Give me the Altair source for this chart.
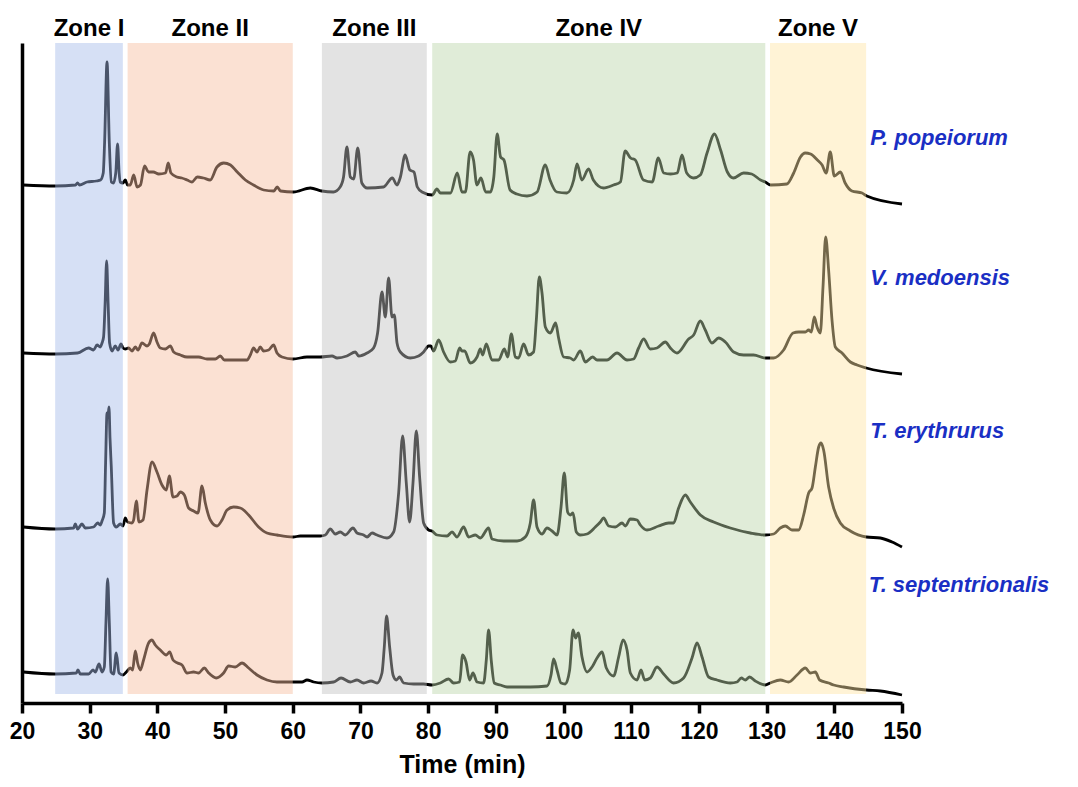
import altair as alt
import pandas as pd

species = ["P. popeiorum", "V. medoensis", "T. erythrurus", "T. septentrionalis"]

# (time in min, detector signal, stacked)
popeiorum = [
    (20.2, 518), (24.9, 517), (27.9, 518), (28.2, 520), (28.5, 518), (29.6, 521), (31.0, 522),
    (31.6, 523), (32.0, 530), (32.2, 560), (32.56, 641), (32.9, 560), (33.2, 521), (33.5, 520),
    (33.85, 530), (34.12, 559), (34.35, 530), (34.5, 521), (34.9, 520), (35.26, 523), (35.6, 518),
    (36.0, 518), (36.5, 528), (37.0, 516), (37.5, 518), (38.1, 537), (38.7, 531), (39.4, 531),
    (40.2, 529), (41.2, 530), (41.6, 540), (42.0, 530), (42.9, 526), (43.6, 525), (44.4, 523),
    (45.1, 521), (45.9, 526), (46.8, 525), (47.8, 523), (48.8, 536), (49.8, 540), (50.8, 538),
    (51.8, 531), (53.0, 523), (54.2, 518), (55.7, 513), (57.2, 512), (57.7, 516), (58.2, 512),
    (60.1, 511), (62.6, 515), (64.3, 512), (66.0, 511), (67.0, 516), (67.5, 526), (68.0, 556),
    (68.5, 526), (69.0, 524), (69.6, 555), (70.2, 520), (71.0, 515), (73.4, 516), (74.7, 525),
    (75.4, 518), (75.9, 526), (76.6, 548), (77.3, 533), (77.9, 531), (78.4, 516), (79.1, 511),
    (80.6, 508), (81.3, 514), (81.8, 510), (83.3, 510), (84.3, 530), (85.0, 511), (85.5, 511),
    (86.2, 551), (86.7, 543), (87.2, 518), (87.8, 525), (88.5, 511), (89.2, 511), (89.7, 526),
    (90.2, 569), (90.7, 546), (91.2, 543), (92.1, 513), (93.1, 509), (94.6, 507), (96.1, 511),
    (97.3, 538), (98.0, 523), (99.0, 511), (100.5, 510), (101.5, 523), (102.0, 539), (102.7, 523),
    (103.7, 534), (104.4, 523), (105.9, 515), (107.4, 518), (108.4, 521), (109.1, 552), (109.9, 545),
    (110.6, 543), (111.8, 523), (113.1, 521), (114.0, 545), (114.8, 530), (115.8, 529), (116.8, 530),
    (117.5, 548), (118.2, 530), (119.2, 525), (120.2, 528), (121.2, 550), (122.3, 569), (123.2, 553),
    (124.2, 531), (125.1, 525), (126.6, 530), (127.8, 529), (129.1, 523), (129.8, 521), (130.6, 518),
    (133.0, 519), (134.0, 530), (135.0, 546), (135.7, 550), (136.5, 549), (137.5, 543), (138.2, 538),
    (138.8, 530), (139.4, 551), (140.0, 527), (140.9, 531), (141.6, 520), (142.6, 512), (144.1, 510),
    (144.8, 507), (150.0, 499),
]

medoensis = [
    (20.2, 350), (24.9, 349), (28.2, 350), (29.84, 355), (30.58, 353), (31.08, 358), (31.57, 356),
    (31.82, 360), (32.05, 366), (32.28, 400), (32.5, 442), (32.72, 400), (32.94, 360), (33.3, 352),
    (33.78, 357), (34.18, 353), (34.63, 359), (34.92, 355), (35.26, 354), (35.75, 355), (36.25, 352),
    (36.74, 356), (37.14, 353), (37.73, 360), (38.47, 357), (38.81, 359), (39.44, 370), (39.94, 361),
    (40.43, 355), (41.17, 354), (41.91, 357), (42.4, 351), (43.39, 348), (44.38, 346), (46.09, 346),
    (47.33, 344), (48.56, 344), (49.3, 347), (49.89, 343), (51.26, 343), (53.24, 343), (53.73, 348),
    (54.21, 355), (54.72, 351), (55.2, 356), (55.69, 352), (56.43, 353), (57.17, 358), (57.67, 350),
    (58.41, 346), (60.04, 344), (62.1, 346), (64.07, 346), (65.8, 347), (66.54, 345), (68.0, 347),
    (69.24, 351), (69.73, 347), (70.97, 350), (71.94, 355), (72.53, 370), (73.18, 411), (73.67, 386),
    (74.16, 425), (74.66, 386), (75.0, 388), (75.4, 360), (75.89, 351), (77.36, 345), (78.59, 347),
    (79.33, 351), (80.07, 357), (80.4, 357), (80.81, 352), (81.55, 363), (82.28, 351), (83.27, 341),
    (84.01, 342), (84.65, 355), (85.0, 352), (85.39, 352), (86.23, 340), (87.22, 346), (87.71, 354),
    (88.05, 348), (88.59, 359), (89.43, 343), (90.41, 343), (91.25, 354), (91.74, 346), (92.29, 369),
    (92.88, 346), (93.36, 345), (94.1, 359), (94.84, 348), (95.58, 351), (95.98, 383), (96.42, 426),
    (96.82, 410), (97.31, 376), (98.05, 370), (98.83, 380), (99.27, 365), (100.01, 346), (101.0, 345),
    (101.49, 343), (102.48, 352), (103.22, 341), (104.3, 346), (104.95, 343), (106.42, 343),
    (107.9, 350), (109.38, 343), (110.35, 344), (111.09, 355), (111.83, 364), (112.82, 354),
    (113.81, 355), (115.04, 361), (115.78, 355), (116.76, 350), (118.48, 364), (119.22, 368),
    (120.21, 382), (120.94, 373), (121.93, 360), (122.91, 365), (123.9, 361), (125.13, 351),
    (126.6, 348), (128.08, 348), (129.81, 345), (131.04, 345), (132.51, 353), (133.9, 370),
    (134.73, 371), (135.72, 371), (136.21, 373), (136.6, 371), (137.05, 386), (137.45, 376),
    (137.93, 370), (138.33, 416), (138.72, 466), (139.16, 433), (139.66, 383), (140.15, 356),
    (141.14, 350), (142.37, 341), (143.36, 338), (144.73, 335), (150.0, 329),
]

erythrurus = [
    (20.2, 176), (24.9, 174), (27.62, 175), (27.87, 179), (28.21, 174), (28.86, 179), (29.35, 175),
    (30.58, 176), (31.17, 180), (31.57, 178), (31.82, 182), (32.16, 190), (32.35, 240), (32.56, 290),
    (32.7, 286), (32.85, 296), (33.0, 265), (33.19, 236), (33.53, 180), (33.93, 176), (34.52, 179),
    (34.92, 177), (35.26, 185), (35.6, 181), (36.25, 180), (36.49, 183), (36.89, 202), (37.28, 181),
    (37.88, 183), (38.47, 213), (39.21, 241), (39.94, 231), (40.68, 218), (41.32, 213), (41.76, 227),
    (42.31, 206), (42.9, 207), (43.39, 211), (43.98, 208), (44.61, 195), (45.35, 192), (46.0, 190),
    (46.59, 217), (47.08, 200), (47.82, 183), (48.81, 177), (49.55, 183), (50.29, 193), (51.26, 196),
    (52.25, 195), (53.48, 188), (54.95, 176), (56.19, 170), (57.67, 168), (60.04, 166), (61.11, 167),
    (64.07, 167), (64.81, 168), (65.55, 174), (66.28, 169), (67.02, 171), (67.76, 168), (68.9, 175),
    (69.49, 170), (70.47, 168), (70.97, 166), (71.71, 170), (72.45, 168), (73.92, 165), (74.9, 171),
    (75.64, 210), (76.23, 267), (76.77, 220), (77.26, 181), (77.76, 220), (78.25, 272), (78.74, 226),
    (79.33, 180), (80.07, 173), (80.57, 172), (81.31, 168), (82.79, 167), (83.53, 171), (84.26, 166),
    (85.24, 176), (85.98, 166), (86.97, 168), (87.71, 165), (88.93, 175), (89.43, 164), (91.15, 162),
    (93.13, 162), (94.35, 166), (95.09, 180), (95.58, 203), (96.08, 176), (96.82, 169), (97.56, 175),
    (98.3, 172), (99.04, 168), (99.63, 196), (100.11, 230), (100.6, 191), (101.0, 188), (101.4, 190),
    (101.89, 171), (102.48, 168), (103.47, 169), (104.7, 176), (105.44, 181), (105.92, 185),
    (106.66, 177), (107.65, 176), (108.64, 180), (109.13, 177), (109.87, 184), (110.86, 183),
    (111.34, 178), (112.33, 173), (114.05, 177), (115.52, 180), (116.26, 180), (117.0, 195),
    (117.99, 208), (118.73, 201), (120.21, 188), (122.17, 181), (124.64, 175), (127.59, 170),
    (129.81, 168), (131.04, 169), (132.02, 175), (132.76, 177), (133.75, 173), (134.73, 173),
    (135.47, 188), (136.21, 210), (136.71, 215), (137.2, 236), (137.69, 256), (138.04, 260),
    (138.42, 253), (139.16, 216), (139.9, 195), (140.89, 180), (142.37, 172), (144.73, 166),
    (146.8, 165), (148.53, 161), (150.0, 156),
]

septentrionalis = [
    (20.2, 31), (24.9, 29), (28.02, 30), (28.27, 33), (28.61, 29), (29.84, 29), (30.49, 33),
    (30.83, 31), (31.38, 39), (31.82, 31), (32.16, 36), (32.4, 80), (32.65, 124), (32.9, 80),
    (33.15, 31), (33.53, 29), (33.93, 50), (34.33, 30), (34.92, 28), (35.41, 31), (36.0, 35),
    (36.34, 33), (36.74, 52), (37.08, 40), (37.48, 33), (37.96, 43), (38.7, 60), (39.21, 63),
    (39.69, 58), (40.43, 53), (41.32, 48), (41.81, 51), (42.31, 43), (42.99, 40), (43.64, 38),
    (44.38, 30), (45.35, 31), (46.09, 30), (46.93, 35), (47.57, 30), (48.7, 25), (49.78, 30),
    (50.52, 37), (51.51, 36), (52.5, 40), (53.48, 35), (54.72, 28), (56.19, 23), (57.67, 21),
    (60.04, 21), (61.37, 21), (62.1, 23), (63.09, 21), (64.32, 20), (66.03, 21), (67.13, 25),
    (68.5, 21), (69.49, 23), (70.47, 20), (71.56, 22), (72.45, 20), (73.18, 30), (73.52, 56),
    (73.86, 87), (74.31, 56), (74.81, 28), (75.3, 23), (75.78, 26), (76.37, 20), (77.85, 19),
    (79.33, 19), (80.57, 18), (81.8, 20), (83.02, 24), (83.76, 20), (84.65, 21), (85.09, 48),
    (85.59, 41), (86.12, 23), (86.63, 30), (87.22, 21), (88.19, 20), (88.59, 43), (88.93, 73),
    (89.33, 42), (89.77, 20), (90.66, 18), (91.65, 16), (95.09, 16), (97.56, 17), (98.15, 28),
    (98.53, 44), (99.04, 33), (99.63, 20), (100.26, 19), (100.9, 33), (101.4, 73), (101.78, 65),
    (102.18, 70), (102.73, 46), (103.47, 31), (104.21, 36), (104.95, 45), (105.69, 51), (106.32, 35),
    (107.4, 27), (108.14, 46), (108.79, 63), (109.38, 53), (109.87, 30), (110.86, 23), (111.45, 33),
    (111.98, 23), (112.82, 25), (113.81, 36), (114.79, 29), (116.26, 20), (117.74, 25), (118.98, 45),
    (119.72, 60), (120.46, 46), (121.43, 26), (122.67, 23), (124.64, 20), (125.63, 21), (126.26, 25),
    (126.85, 23), (127.49, 26), (128.33, 22), (129.81, 18), (130.55, 20), (132.02, 23), (133.25, 21),
    (134.49, 28), (135.72, 35), (136.46, 30), (137.2, 31), (137.83, 23), (139.16, 20), (139.9, 18),
    (141.38, 16), (144.73, 13), (146.8, 12), (150.0, 8),
]

zone_names = ["Zone I", "Zone II", "Zone III", "Zone IV", "Zone V"]
zone_start = [24.9, 35.6, 64.3, 80.6, 130.5]
zone_end = [34.9, 60.0, 79.8, 129.8, 144.7]
zone_colors = ["#a4bae9", "#f6bc9d", "#c1c1c1", "#bad5a8", "#ffe4a4"]
zone_low = [9, 9, 9, 9, 9]
zone_high = [660, 660, 660, 660, 660]
zone_label_level = [667, 667, 667, 667, 667]

species_label_time = [145.3, 145.3, 145.3, 145.1]
species_label_level = [558, 418, 265, 111]

x_ticks = [20, 30, 40, 50, 60, 70, 80, 90, 100, 110, 120, 130, 140, 150]

rows = []
for name, trace in zip(species, [popeiorum, medoensis, erythrurus, septentrionalis]):
    for t, v in trace:
        rows.append({"sample": name, "t": t, "v": v})
trace_df = pd.DataFrame(rows)

zones_df = pd.DataFrame({
    "zone": zone_names, "start": zone_start, "end": zone_end,
    "lo": zone_low, "hi": zone_high, "ly": zone_label_level,
})
labels_df = pd.DataFrame({"sample": species, "t": species_label_time, "v": species_label_level})

FONT = "Liberation Sans"
x_scale = alt.Scale(domain=[20, 150], nice=False, zero=False)
y_scale = alt.Scale(domain=[0, 660], nice=False, zero=False)

lines = alt.Chart(trace_df).mark_line(
    color="#000000", strokeWidth=2.8, interpolate="monotone", clip=False
).encode(
    x=alt.X("t:Q", scale=x_scale, title="Time (min)",
            axis=alt.Axis(values=x_ticks, grid=False, labelFlush=False, labelOverlap=False,
                          domainWidth=3.5, domainColor="#000000", tickColor="#000000",
                          tickWidth=3.5, tickSize=10, labelPadding=7,
                          labelFont=FONT, labelFontSize=23, labelFontWeight="bold",
                          labelColor="#000000", titleFont=FONT, titleFontSize=25,
                          titleFontWeight="bold", titleColor="#000000", titlePadding=9)),
    y=alt.Y("v:Q", scale=y_scale,
            axis=alt.Axis(labels=False, ticks=False, grid=False, title=None,
                          domainWidth=3.5, domainColor="#000000")),
    detail="sample:N",
)

rects = alt.Chart(zones_df).mark_rect(opacity=0.45).encode(
    x="start:Q", x2="end:Q", y="lo:Q", y2="hi:Q",
    color=alt.Color("zone:N", scale=alt.Scale(domain=zone_names, range=zone_colors), legend=None),
)

zone_text = alt.Chart(zones_df).transform_calculate(
    mid="(datum.start + datum.end) / 2"
).mark_text(
    font=FONT, fontSize=24, fontWeight="bold", color="#000000", baseline="alphabetic", align="center"
).encode(x="mid:Q", y="ly:Q", text="zone:N")

species_text = alt.Chart(labels_df).mark_text(
    font=FONT, fontSize=22, fontWeight="bold", fontStyle="italic", color="#1a2fc4",
    align="left", baseline="alphabetic"
).encode(x="t:Q", y="v:Q", text="sample:N")

chart = alt.layer(lines, rects, zone_text, species_text).properties(
    width=880, height=660,
    autosize=alt.AutoSizeParams(type="none"),
    padding={"left": 14, "top": 35, "right": 165, "bottom": 76},
).configure_view(stroke=None)

chart.save("out.html", embed_options={"renderer": "svg", "actions": False})
